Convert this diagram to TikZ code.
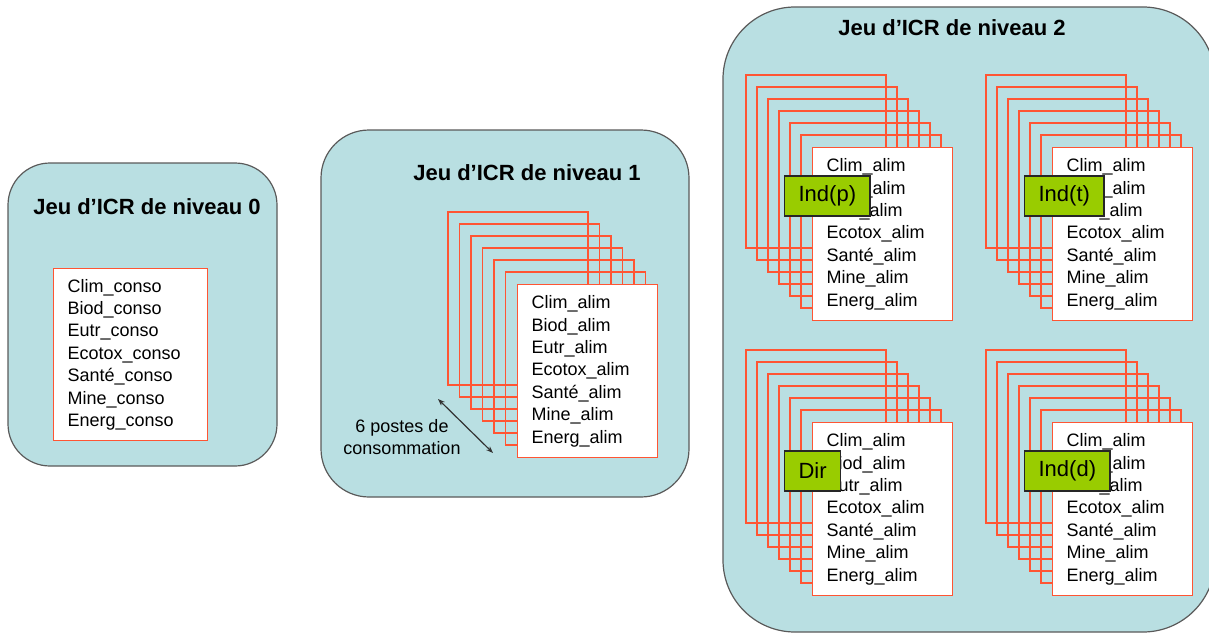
\documentclass[tikz,border=0pt]{standalone}
\usepackage{fontspec}
\setmainfont{Liberation Sans}
\usepackage{tikz}
\usetikzlibrary{calc,arrows.meta}
\definecolor{icrteal}{HTML}{B9DFE2}
\definecolor{icrgray}{HTML}{5A5A5A}
\definecolor{icrred}{HTML}{FF5533}
\definecolor{icrgreen}{HTML}{99CC00}

\newcommand{\alimlist}{Clim\_alim\\Biod\_alim\\Eutr\_alim\\Ecotox\_alim\\Santé\_alim\\Mine\_alim\\Energ\_alim}

\begin{document}
\begin{tikzpicture}[x=1pt, y=-1pt,
    icrset/.style={rectangle, draw=icrgray, fill=icrteal, line width=1.2pt, rounded corners=#1, inner sep=0pt},
    title/.style={font=\fontsize{22}{26}\selectfont\bfseries},
    listbox/.style={rectangle, draw=icrred, fill=white, line width=1.3pt, align=left, anchor=north west,
        font=\fontsize{18}{22.4}\selectfont, inner xsep=14pt, inner ysep=0pt, text width=112pt, minimum height=173pt},
    sheet/.style={draw=icrred, line width=1.3pt},
    tag/.style={rectangle, draw=black!85, fill=icrgreen, line width=1.2pt, anchor=west,
        font=\fontsize{22}{26}\selectfont, inner xsep=14pt, inner ysep=0pt, minimum height=40pt},
    arrow/.style={{Stealth[length=7pt]}-{Stealth[length=7pt]}, line width=1.2pt, draw=black!80}]

\useasboundingbox (0,0) rectangle (1209,634);

% Level 0
\node[icrset=42, minimum width=269pt, minimum height=303pt] (lvl0) at (142.5,314.5) {};
\node[title] (t0) at (147,207) {Jeu d’ICR de niveau 0};
\node[listbox, text width=126pt, minimum height=172pt] (conso) at (53,268)
    {Clim\_conso\\Biod\_conso\\Eutr\_conso\\Ecotox\_conso\\Santé\_conso\\Mine\_conso\\Energ\_conso};

% Level 1
\node[icrset=48, minimum width=368pt, minimum height=367pt] (lvl1) at (505,313.5) {};
\node[title] (t1) at (527,173) {Jeu d’ICR de niveau 1};
\coordinate (c1) at (517,284);
\foreach \i in {6,...,1}
    \draw[sheet] ($(c1)+(-11.5*\i,-12*\i)$) rectangle ++(140,173);
\node[listbox] (alim1) at (c1) {\alimlist};
\coordinate (a1) at (438,399);
\coordinate (a2) at (493,453);
\draw[arrow] (a1) -- (a2);
\node[align=center, font=\fontsize{18}{22}\selectfont] (postes) at (402,437) {6 postes de\\consommation};

% Level 2
\node[icrset=72, minimum width=492pt, minimum height=625pt] (lvl2) at (969,319.5) {};
\node[title] (t2) at (952,28) {Jeu d’ICR de niveau 2};
\coordinate (cp) at (812,147);
\coordinate (ct) at (1052,147);
\coordinate (cd) at (812,422);
\coordinate (cdd) at (1052,422);
\foreach \c in {cp,ct,cd,cdd}
    \foreach \i in {6,...,1}
        \draw[sheet] ($(\c)+(-11*\i,-12*\i)$) rectangle ++(140,173);
\node[listbox] (alimp) at (cp) {\alimlist};
\node[listbox] (alimt) at (ct) {\alimlist};
\node[listbox] (alimd) at (cd) {\alimlist};
\node[listbox] (alimdd) at (cdd) {\alimlist};
\node[tag] (indp) at (784,196) {Ind(p)};
\node[tag] (indt) at (1024,196) {Ind(t)};
\node[tag] (dir) at (784,471) {Dir};
\node[tag] (indd) at (1024,471) {Ind(d)};

\end{tikzpicture}
\end{document}
